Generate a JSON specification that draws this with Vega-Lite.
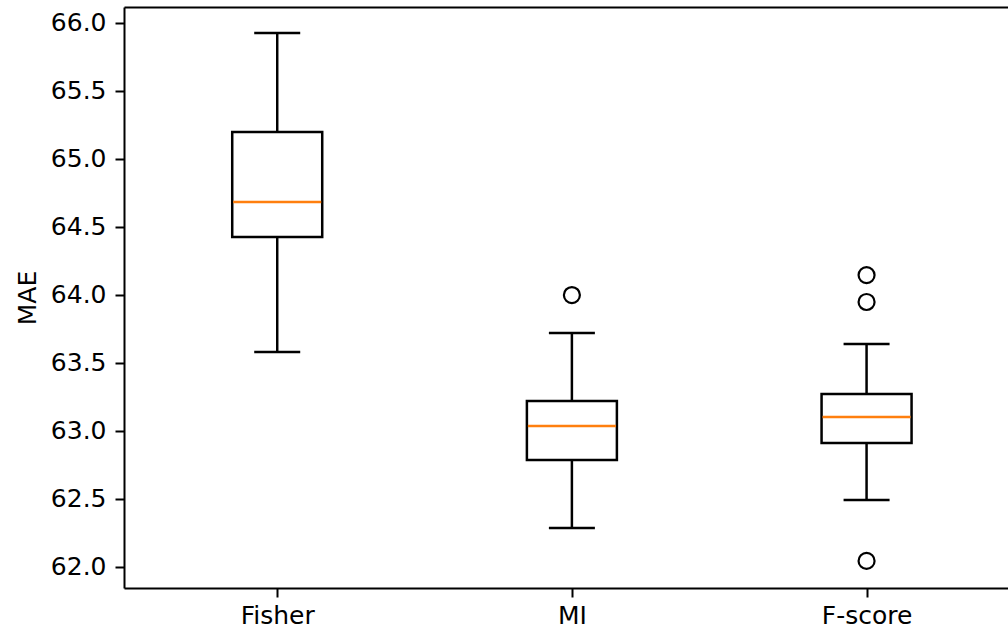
{
  "$schema": "https://vega.github.io/schema/vega-lite/v6.json",
  "autosize": "none",
  "width": 884,
  "height": 581,
  "padding": {"left": 124, "top": 7, "right": 0, "bottom": 45},
  "background": "white",
  "config": {
    "view": {"stroke": null},
    "axis": {
      "labelFont": "DejaVu Sans",
      "labelFontSize": 25,
      "labelColor": "black",
      "titleFont": "DejaVu Sans",
      "titleFontSize": 25,
      "titleFontWeight": "normal",
      "titleColor": "black",
      "tickColor": "black",
      "tickWidth": 2,
      "tickSize": 9,
      "domainColor": "black",
      "domainWidth": 2,
      "grid": false
    }
  },
  "datasets": {
    "boxes": [
      {"method": "Fisher", "idx": 1, "lower": 63.578, "q1": 64.424, "median": 64.681, "q3": 65.196, "upper": 65.924},
      {"method": "MI", "idx": 2, "lower": 62.284, "q1": 62.784, "median": 63.034, "q3": 63.218, "upper": 63.718},
      {"method": "F-score", "idx": 3, "lower": 62.49, "q1": 62.909, "median": 63.1, "q3": 63.269, "upper": 63.637}
    ],
    "outliers": [
      {"method": "MI", "idx": 2, "value": 63.997},
      {"method": "F-score", "idx": 3, "value": 64.144},
      {"method": "F-score", "idx": 3, "value": 63.946},
      {"method": "F-score", "idx": 3, "value": 62.042}
    ]
  },
  "resolve": {"axis": {"x": "independent", "y": "independent"}},
  "layer": [
    {
      "data": {"name": "boxes"},
      "mark": {"type": "rule", "color": "black", "strokeWidth": 2.5},
      "encoding": {
        "x": {
          "field": "idx", "type": "quantitative",
          "scale": {"domain": [0.497, 3.463], "nice": false, "zero": false},
          "axis": {
            "orient": "bottom", "values": [1, 2, 3], "title": null, "labelPadding": 6,
            "labelExpr": "datum.value == 1 ? 'Fisher' : datum.value == 2 ? 'MI' : 'F-score'"
          }
        },
        "y": {
          "field": "lower", "type": "quantitative",
          "scale": {"domain": [61.843, 66.115], "nice": false, "zero": false},
          "axis": {
            "values": [62, 62.5, 63, 63.5, 64, 64.5, 65, 65.5, 66],
            "format": ".1f", "title": "MAE", "labelPadding": 9, "titlePadding": 10
          }
        },
        "y2": {"field": "q1"}
      }
    },
    {
      "data": {"name": "boxes"},
      "mark": {"type": "rule", "color": "black", "strokeWidth": 2.5},
      "encoding": {
        "x": {"field": "idx", "type": "quantitative", "axis": {"orient": "top", "title": null, "labels": false, "ticks": false, "domain": true}},
        "y": {"field": "q3", "type": "quantitative", "axis": null},
        "y2": {"field": "upper"}
      }
    },
    {
      "data": {"name": "boxes"},
      "mark": {"type": "bar", "fill": "white", "stroke": "black", "strokeWidth": 2.5, "size": 90},
      "encoding": {
        "x": {"field": "idx", "type": "quantitative", "axis": null},
        "y": {"field": "q1", "type": "quantitative", "axis": null},
        "y2": {"field": "q3"}
      }
    },
    {
      "data": {"name": "boxes"},
      "mark": {"type": "tick", "orient": "horizontal", "color": "#ff7f0e", "size": 88, "thickness": 2.5, "opacity": 1},
      "encoding": {
        "x": {"field": "idx", "type": "quantitative", "axis": null},
        "y": {"field": "median", "type": "quantitative", "axis": null}
      }
    },
    {
      "data": {"name": "boxes"},
      "mark": {"type": "tick", "orient": "horizontal", "color": "black", "size": 46, "thickness": 2.5, "opacity": 1},
      "encoding": {
        "x": {"field": "idx", "type": "quantitative", "axis": null},
        "y": {"field": "lower", "type": "quantitative", "axis": null}
      }
    },
    {
      "data": {"name": "boxes"},
      "mark": {"type": "tick", "orient": "horizontal", "color": "black", "size": 46, "thickness": 2.5, "opacity": 1},
      "encoding": {
        "x": {"field": "idx", "type": "quantitative", "axis": null},
        "y": {"field": "upper", "type": "quantitative", "axis": null}
      }
    },
    {
      "data": {"name": "outliers"},
      "mark": {"type": "point", "shape": "circle", "filled": false, "stroke": "black", "strokeWidth": 2.2, "size": 256, "opacity": 1},
      "encoding": {
        "x": {"field": "idx", "type": "quantitative", "axis": null},
        "y": {"field": "value", "type": "quantitative", "axis": null}
      }
    }
  ]
}
